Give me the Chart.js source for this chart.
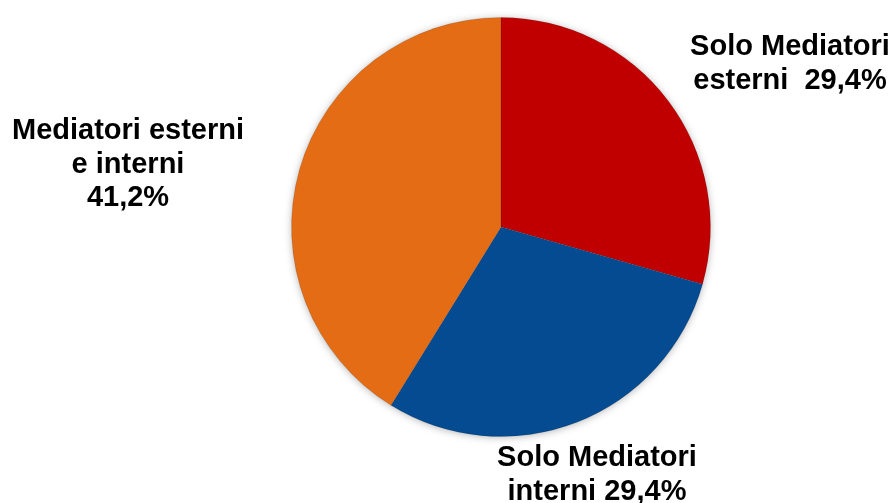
<!DOCTYPE html>
<html>
<head>
<meta charset="utf-8">
<script src="https://cdn.jsdelivr.net/npm/chart.js@4/dist/chart.umd.min.js"></script>
<style>
  html, body { margin: 0; padding: 0; background: #fff; }
  #wrap { width: 894px; height: 503px; position: relative; }
</style>
</head>
<body>
<div id="wrap"><canvas id="myChart" width="894" height="503"></canvas></div>
<script>
// categories and values (percent)
var categories = ["Solo Mediatori esterni", "Solo Mediatori interni", "Mediatori esterni e interni"];
var values = [29.4, 29.4, 41.2];
var labelLines = [
    ["Solo Mediatori", "esterni  29,4%"],
    ["Solo Mediatori", "interni 29,4%"],
    ["Mediatori esterni", "e interni", "41,2%"]
];
var sliceColors = ["#C00000", "#054B91", "#E36C15"];

// where each label block sits (centre x, first line centre y)
var labelPos = [
    { x: 790, y: 47 },
    { x: 597, y: 458 },
    { x: 128, y: 131 }
];

var pieShadow = {
    id: 'pieShadow',
    beforeDatasetsDraw: function (chart) {
        var arc = chart.getDatasetMeta(0).data[0];
        if (!arc) return;
        var ctx = chart.ctx;
        ctx.save();
        ctx.shadowColor = 'rgba(0,0,0,0.35)';
        ctx.shadowBlur = 9;
        ctx.shadowOffsetX = 0;
        ctx.shadowOffsetY = 1;
        ctx.fillStyle = '#ffffff';
        ctx.beginPath();
        ctx.arc(arc.x, arc.y, arc.outerRadius - 1, 0, Math.PI * 2);
        ctx.fill();
        ctx.restore();
    }
};

var sliceLabels = {
    id: 'sliceLabels',
    afterDatasetsDraw: function (chart) {
        var ctx = chart.ctx;
        ctx.save();
        ctx.fillStyle = '#000';
        ctx.font = 'bold 29px "Liberation Sans", Arial, sans-serif';
        ctx.textAlign = 'center';
        ctx.textBaseline = 'middle';
        labelLines.forEach(function (lines, i) {
            lines.forEach(function (t, j) {
                ctx.fillText(t, labelPos[i].x, labelPos[i].y + j * 33.5);
            });
        });
        ctx.restore();
    }
};

new Chart(document.getElementById('myChart'), {
    type: 'pie',
    data: {
        labels: categories,
        datasets: [{
            data: values,
            backgroundColor: sliceColors,
            borderColor: 'rgba(0,0,0,0.12)',
            borderWidth: 1
        }]
    },
    options: {
        responsive: false,
        animation: false,
        layout: { padding: { left: 291, right: 183, top: 17, bottom: 66 } },
        plugins: {
            legend: { display: false },
            tooltip: { enabled: false }
        }
    },
    plugins: [pieShadow, sliceLabels]
});
</script>
</body>
</html>
